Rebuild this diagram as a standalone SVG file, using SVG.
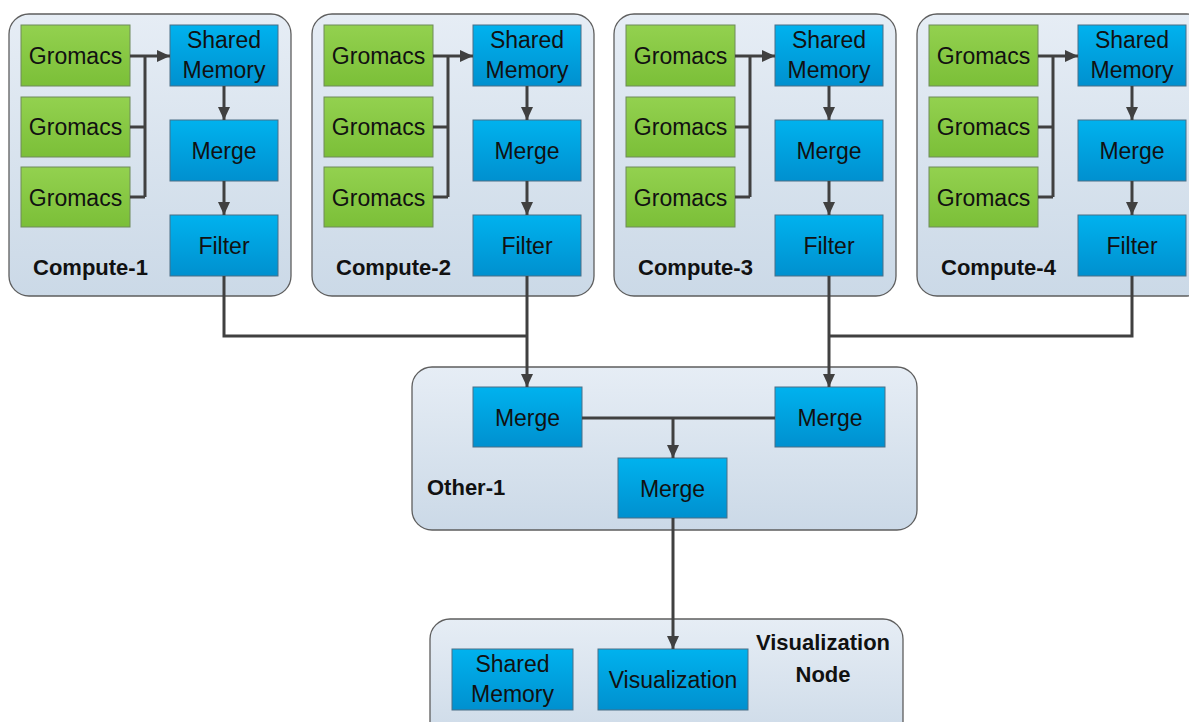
<svg xmlns="http://www.w3.org/2000/svg" width="1189" height="722" viewBox="0 0 1189 722">
<defs>
<linearGradient id="gBlue" x1="0" y1="0" x2="0" y2="1"><stop offset="0" stop-color="#00b2ee"/><stop offset="1" stop-color="#0090cf"/></linearGradient>
<linearGradient id="gGreen" x1="0" y1="0" x2="0" y2="1"><stop offset="0" stop-color="#93d14f"/><stop offset="1" stop-color="#7bbf38"/></linearGradient>
<linearGradient id="gCont" x1="0" y1="0" x2="0" y2="1"><stop offset="0" stop-color="#e6edf5"/><stop offset="1" stop-color="#cbd9e7"/></linearGradient>
<marker id="arr" markerUnits="userSpaceOnUse" markerWidth="14" markerHeight="14" viewBox="0 0 14 14" refX="13" refY="7" orient="auto"><path d="M0,1 L13,7 L0,13 Z" fill="#404040"/></marker>
<style>
.cont{fill:url(#gCont);stroke:#5e5e5e;stroke-width:1.3}
.blue{fill:url(#gBlue);stroke:#4a6f86;stroke-width:1}
.green{fill:url(#gGreen);stroke:#6f8a5a;stroke-width:1}
.t{font-family:"Liberation Sans",Arial,sans-serif;font-size:23px;fill:#111;text-anchor:middle}
.lbl{font-family:"Liberation Sans",Arial,sans-serif;font-size:22px;font-weight:bold;fill:#111}
.c{fill:none;stroke:#404040;stroke-width:3}
</style>
</defs>
<rect width="1189" height="722" fill="#ffffff"/>

<g id="compute-1">
<rect class="cont" x="9" y="14" width="282" height="282" rx="20"/>
<rect class="green" x="21" y="25" width="109" height="61"/><text class="t" x="75.5" y="64">Gromacs</text>
<rect class="green" x="21" y="97" width="109" height="60"/><text class="t" x="75.5" y="135">Gromacs</text>
<rect class="green" x="21" y="167" width="109" height="60"/><text class="t" x="75.5" y="205.5">Gromacs</text>
<rect class="blue" x="170" y="25" width="108" height="61"/><text class="t" x="224" y="48">Shared</text><text class="t" x="224" y="78">Memory</text>
<rect class="blue" x="170" y="120" width="108" height="61"/><text class="t" x="224" y="159">Merge</text>
<rect class="blue" x="170" y="215" width="108" height="61"/><text class="t" x="224" y="254">Filter</text>
<text class="lbl" x="33" y="275">Compute-1</text>
</g>
<g id="compute-2" transform="translate(303,0)">
<rect class="cont" x="9" y="14" width="282" height="282" rx="20"/>
<rect class="green" x="21" y="25" width="109" height="61"/><text class="t" x="75.5" y="64">Gromacs</text>
<rect class="green" x="21" y="97" width="109" height="60"/><text class="t" x="75.5" y="135">Gromacs</text>
<rect class="green" x="21" y="167" width="109" height="60"/><text class="t" x="75.5" y="205.5">Gromacs</text>
<rect class="blue" x="170" y="25" width="108" height="61"/><text class="t" x="224" y="48">Shared</text><text class="t" x="224" y="78">Memory</text>
<rect class="blue" x="170" y="120" width="108" height="61"/><text class="t" x="224" y="159">Merge</text>
<rect class="blue" x="170" y="215" width="108" height="61"/><text class="t" x="224" y="254">Filter</text>
<text class="lbl" x="33" y="275">Compute-2</text>
</g>
<g id="compute-3" transform="translate(605,0)">
<rect class="cont" x="9" y="14" width="282" height="282" rx="20"/>
<rect class="green" x="21" y="25" width="109" height="61"/><text class="t" x="75.5" y="64">Gromacs</text>
<rect class="green" x="21" y="97" width="109" height="60"/><text class="t" x="75.5" y="135">Gromacs</text>
<rect class="green" x="21" y="167" width="109" height="60"/><text class="t" x="75.5" y="205.5">Gromacs</text>
<rect class="blue" x="170" y="25" width="108" height="61"/><text class="t" x="224" y="48">Shared</text><text class="t" x="224" y="78">Memory</text>
<rect class="blue" x="170" y="120" width="108" height="61"/><text class="t" x="224" y="159">Merge</text>
<rect class="blue" x="170" y="215" width="108" height="61"/><text class="t" x="224" y="254">Filter</text>
<text class="lbl" x="33" y="275">Compute-3</text>
</g>
<g id="compute-4" transform="translate(908,0)">
<rect class="cont" x="9" y="14" width="290" height="282" rx="20"/>
<rect class="green" x="21" y="25" width="109" height="61"/><text class="t" x="75.5" y="64">Gromacs</text>
<rect class="green" x="21" y="97" width="109" height="60"/><text class="t" x="75.5" y="135">Gromacs</text>
<rect class="green" x="21" y="167" width="109" height="60"/><text class="t" x="75.5" y="205.5">Gromacs</text>
<rect class="blue" x="170" y="25" width="108" height="61"/><text class="t" x="224" y="48">Shared</text><text class="t" x="224" y="78">Memory</text>
<rect class="blue" x="170" y="120" width="108" height="61"/><text class="t" x="224" y="159">Merge</text>
<rect class="blue" x="170" y="215" width="108" height="61"/><text class="t" x="224" y="254">Filter</text>
<text class="lbl" x="33" y="275">Compute-4</text>
</g>

<g id="other-1">
<rect class="cont" x="412" y="367" width="505" height="163" rx="20"/>
<rect class="blue" x="473" y="387" width="109" height="60"/><text class="t" x="527.5" y="425.5">Merge</text>
<rect class="blue" x="775" y="387" width="110" height="60"/><text class="t" x="830" y="425.5">Merge</text>
<rect class="blue" x="618" y="458" width="109" height="60"/><text class="t" x="672.5" y="496.5">Merge</text>
<text class="lbl" x="427" y="495">Other-1</text>
</g>

<g id="visualization-node">
<rect class="cont" x="430" y="619" width="473" height="130" rx="20"/>
<rect class="blue" x="452" y="649" width="121" height="61"/><text class="t" x="512.5" y="672">Shared</text><text class="t" x="512.5" y="702">Memory</text>
<rect class="blue" x="598" y="649" width="150" height="61"/><text class="t" x="673" y="687.5">Visualization</text>
<text class="lbl" x="823" y="650" text-anchor="middle">Visualization</text>
<text class="lbl" x="823" y="682" text-anchor="middle">Node</text>
</g>

<g id="connectors">
<g id="c-compute-1">
<path class="c" d="M130,56 H145 M130,127 H145 M130,197 H145 M145,56 V197"/>
<path class="c" d="M145,56 H170" marker-end="url(#arr)"/>
<path class="c" d="M224,86 V120" marker-end="url(#arr)"/>
<path class="c" d="M224,181 V215" marker-end="url(#arr)"/>
</g>
<g id="c-compute-2" transform="translate(303,0)">
<path class="c" d="M130,56 H145 M130,127 H145 M130,197 H145 M145,56 V197"/>
<path class="c" d="M145,56 H170" marker-end="url(#arr)"/>
<path class="c" d="M224,86 V120" marker-end="url(#arr)"/>
<path class="c" d="M224,181 V215" marker-end="url(#arr)"/>
</g>
<g id="c-compute-3" transform="translate(605,0)">
<path class="c" d="M130,56 H145 M130,127 H145 M130,197 H145 M145,56 V197"/>
<path class="c" d="M145,56 H170" marker-end="url(#arr)"/>
<path class="c" d="M224,86 V120" marker-end="url(#arr)"/>
<path class="c" d="M224,181 V215" marker-end="url(#arr)"/>
</g>
<g id="c-compute-4" transform="translate(908,0)">
<path class="c" d="M130,56 H145 M130,127 H145 M130,197 H145 M145,56 V197"/>
<path class="c" d="M145,56 H170" marker-end="url(#arr)"/>
<path class="c" d="M224,86 V120" marker-end="url(#arr)"/>
<path class="c" d="M224,181 V215" marker-end="url(#arr)"/>
</g>
<path class="c" d="M224,276 V336 H527"/>
<path class="c" d="M527,276 V387" marker-end="url(#arr)"/>
<path class="c" d="M1132,276 V336 H829"/>
<path class="c" d="M829,276 V387" marker-end="url(#arr)"/>
<path class="c" d="M582,418 H775"/>
<path class="c" d="M673,418 V458" marker-end="url(#arr)"/>
<path class="c" d="M673,518 V649" marker-end="url(#arr)"/>
</g>
</svg>
